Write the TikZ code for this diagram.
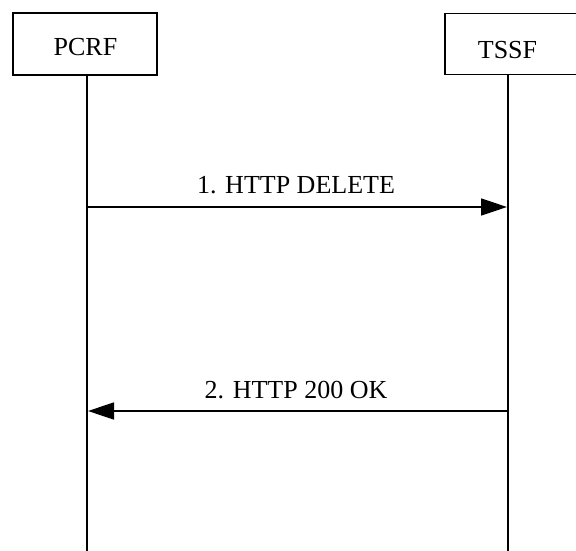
\documentclass[tikz,border=0pt]{standalone}
\usepackage{fontspec}
\setmainfont{Liberation Serif}
\usetikzlibrary{arrows.meta}
\begin{document}
\begin{tikzpicture}[x=1pt,y=1pt,
  entbox/.style={draw,line width=1.5pt,inner sep=0pt},
  lbl/.style={font=\fontsize{26}{30}\selectfont,anchor=base,inner sep=0pt},
  lifeline/.style={line width=1.5pt},
  msg/.style={line width=1.5pt,-{Triangle[length=26pt,width=17pt]}}]
\useasboundingbox (0,0) rectangle (576,-551);
% entity boxes
\node[entbox,minimum width=144pt,minimum height=62pt] (pcrfbox) at (85,-44) {};
\node[entbox,minimum width=136pt,minimum height=61pt,anchor=north west] (tssfbox) at (444,-13) {};
\node[lbl] (pcrf) at (85.5,-56) {PCRF};
\node[lbl] (tssf) at (507.5,-59) {TSSF};
% lifelines
\coordinate (pcrftop) at (87,-75);
\coordinate (pcrfbot) at (87,-552);
\coordinate (tssftop) at (508,-74);
\coordinate (tssfbot) at (508,-552);
\draw[lifeline] (pcrftop) -- (pcrfbot);
\draw[lifeline] (tssftop) -- (tssfbot);
% messages
\coordinate (m1s) at (87,-207);
\coordinate (m1e) at (507,-207);
\coordinate (m2s) at (508,-411);
\coordinate (m2e) at (88,-411);
\draw[msg] (m1s) -- (m1e);
\draw[msg] (m2s) -- (m2e);
\node[lbl] (l1) at (296,-193) {1. HTTP DELETE};
\node[lbl] (l2) at (296,-398) {2. HTTP 200 OK};
\end{tikzpicture}
\end{document}
